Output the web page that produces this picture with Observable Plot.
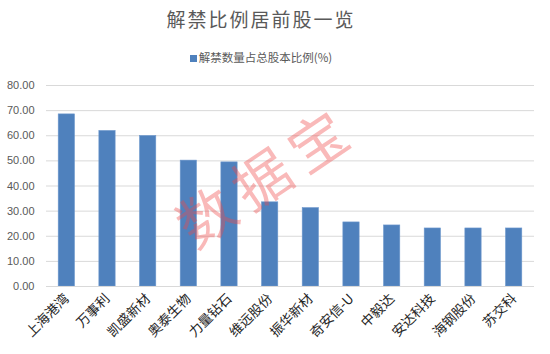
<!DOCTYPE html>
<html>
<head>
<meta charset="utf-8">
<script src="https://cdn.jsdelivr.net/npm/d3@7"></script>
<script src="https://cdn.jsdelivr.net/npm/@observablehq/plot@0.6"></script>
<style>
  html, body { margin: 0; padding: 0; background: #fff; }
  #wrap { position: relative; width: 550px; height: 354px; overflow: hidden; font-family: "Noto Sans CJK SC", "Liberation Sans", sans-serif; }
  #title { position: absolute; left: 0; top: 5px; width: 522px; text-align: center; font-size: 19px; color: #595959; letter-spacing: 2px; }
  #legend { position: absolute; left: 0; top: 49px; width: 522px; text-align: center; font-size: 11.5px; color: #595959; }
  #legend .sw { display: inline-block; width: 7px; height: 7px; background: #4f81bd; margin-right: 2px; vertical-align: 0px; }
  #chart { position: absolute; left: 0; top: 70px; }
  #wm { position: absolute; left: 153px; top: 146px; width: 214px; text-align: center; font-size: 57px; line-height: 60px; color: rgba(240, 70, 70, 0.38); transform: rotate(-34deg); transform-origin: center; letter-spacing: 10px; text-indent: 10px; font-family: "Noto Sans CJK SC", sans-serif; pointer-events: none; white-space: nowrap; }
</style>
</head>
<body>
<div id="wrap">
  <div id="title">解禁比例居前股一览</div>
  <div id="legend"><span class="sw"></span>解禁数量占总股本比例(%)</div>
  <div id="chart"></div>
  <div id="wm">数据宝</div>
</div>
<script>
const stocks = ["上海港湾", "万事利", "凯盛新材", "奥泰生物", "力量钻石", "维远股份", "振华新材", "奇安信-U", "中毅达", "安达科技", "海钢股份", "苏交科"];
const ratios = [68.5, 61.9, 59.9, 50.1, 49.4, 33.5, 31.2, 25.5, 24.3, 23.1, 23.1, 23.1];
const yTicks = [0, 10, 20, 30, 40, 50, 60, 70, 80];

const data = stocks.map((name, i) => ({name, value: ratios[i]}));

const chart = Plot.plot({
  width: 550,
  height: 284,
  marginTop: 15,
  marginBottom: 68,
  marginLeft: 46,
  marginRight: 16,
  style: { fontFamily: "'Noto Sans CJK SC', 'Liberation Sans', sans-serif", background: "transparent" },
  x: { domain: stocks, paddingInner: 0.6, paddingOuter: 0.3, round: false, label: null },
  y: { domain: [0, 80], ticks: yTicks, label: null },
  marks: [
    Plot.gridY(yTicks, { stroke: "#d9d9d9", strokeOpacity: 1, strokeWidth: 1 }),
    Plot.axisY(yTicks, { tickSize: 0, tickPadding: 12, tickFormat: d => d.toFixed(2), fontSize: 11, fill: "#595959", fontFamily: "'Liberation Sans', sans-serif" }),
    Plot.barY(data, { x: "name", y: "value", fill: "#4f81bd", stroke: "#6d97cc", strokeWidth: 0.6 }),
    Plot.axisX({ tickSize: 0, tickPadding: 10, tickRotate: -45, fontSize: 13.5, fill: "#262626" }),
    Plot.ruleY([0], { stroke: "#d9d9d9" })
  ]
});
document.getElementById("chart").appendChild(chart);
</script>
</body>
</html>
